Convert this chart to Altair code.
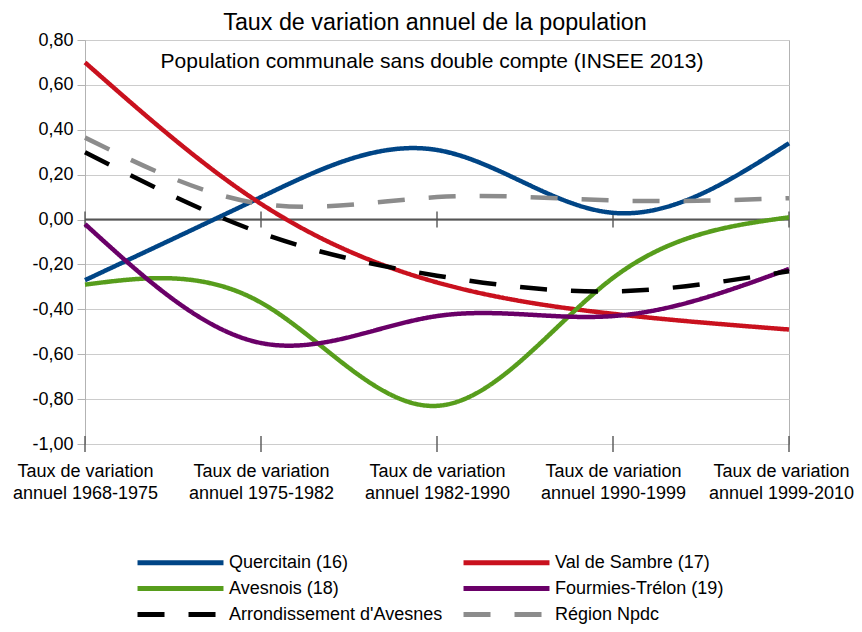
import altair as alt
import pandas as pd

categories = [
    "Taux de variation annuel 1968-1975",
    "Taux de variation annuel 1975-1982",
    "Taux de variation annuel 1982-1990",
    "Taux de variation annuel 1990-1999",
    "Taux de variation annuel 1999-2010",
]
series_names = [
    "Quercitain (16)",
    "Val de Sambre (17)",
    "Avesnois (18)",
    "Fourmies-Trélon (19)",
    "Arrondissement d'Avesnes",
    "Région Npdc",
]
quercitain = [-0.27, 0.10, 0.31, 0.03, 0.34]
val_de_sambre = [0.70, 0.07, -0.28, -0.42, -0.49]
avesnois = [-0.29, -0.37, -0.83, -0.26, 0.01]
fourmies = [-0.02, -0.55, -0.43, -0.43, -0.22]
arrondissement = [0.30, -0.06, -0.25, -0.32, -0.23]
region = [0.365, 0.07, 0.10, 0.085, 0.095]
y_ticks = [-1.0, -0.8, -0.6, -0.4, -0.2, 0.0, 0.2, 0.4, 0.6, 0.8]
cross_lines = [0.0, -1.0]
title_text = "Taux de variation annuel de la population"
subtitle_text = "Population communale sans double compte (INSEE 2013)"

colors = ["#004586", "#c9111e", "#579d1c", "#6a0068", "#000000", "#8c8c8c"]
dashes = [[1, 0], [1, 0], [1, 0], [1, 0], [27, 24], [27, 24]]

values = [quercitain, val_de_sambre, avesnois, fourmies, arrondissement, region]
rows = []
for name, vals in zip(series_names, values):
    for c, v in zip(categories, vals):
        rows.append({"cat": c, "value": v, "serie": name})
df = pd.DataFrame(rows)

ticks_df = pd.DataFrame([{"cat": c, "v": v} for c in categories for v in cross_lines])
zero_df = pd.DataFrame({"v": [0.0]})
title_df = pd.DataFrame({"t": [title_text]})
sub_df = pd.DataFrame({"t": [subtitle_text]})

FONT = "Liberation Sans"

x_scale = alt.Scale(type="point", domain=categories, padding=0)
y_scale = alt.Scale(domain=[-1.0, 0.8], nice=False, zero=False)

x_axis = alt.Axis(
    title=None,
    labelAngle=0,
    labelExpr="[substring(datum.label, 0, 17), substring(datum.label, 18)]",
    labelFont=FONT,
    labelFontSize=18,
    labelColor="black",
    labelLineHeight=22,
    labelPadding=18,
    labelOffset={
        "condition": {"test": "datum.value === 'Taux de variation annuel 1999-2010'", "value": -8},
        "value": 0,
    },
    ticks=False,
    domain=False,
    grid=False,
)
y_axis = alt.Axis(
    title=None,
    values=y_ticks,
    labelExpr="replace(replace(format(datum.value, '.2f'), '.', ','), '\u2212', '-')",
    labelFont=FONT,
    labelFontSize=18,
    labelColor="black",
    labelPadding=4,
    tickSize=8,
    tickColor="#b3b3b3",
    domainColor="#b3b3b3",
    grid=True,
    gridColor="#cccccc",
)

legend = alt.Legend(
    title=None,
    orient="none",
    direction="horizontal",
    legendX=82,
    legendY=509,
    columns=2,
    symbolType="M-4,0H4",
    symbolSize=462,
    symbolStrokeWidth=5,
    labelFont=FONT,
    labelFontSize=18,
    labelColor="black",
    labelOffset=35,
    labelLimit=400,
    columnPadding=10,
    rowPadding=2,
    symbolLimit=0,
)

zero = alt.Chart(zero_df).mark_rule(color="#555555", strokeWidth=2).encode(
    y=alt.Y("v:Q", scale=y_scale, axis=y_axis)
)

ticks = alt.Chart(ticks_df).mark_tick(
    orient="vertical", size=16, thickness=2, color="#555555"
).encode(
    x=alt.X("cat:N", scale=x_scale, axis=x_axis, sort=categories),
    y=alt.Y("v:Q", scale=y_scale, axis=y_axis),
)

lines = alt.Chart(df).mark_line(interpolate="natural", strokeWidth=4.5).encode(
    x=alt.X("cat:N", scale=x_scale, axis=x_axis, sort=categories),
    y=alt.Y("value:Q", scale=y_scale, axis=y_axis),
    color=alt.Color(
        "serie:N",
        scale=alt.Scale(domain=series_names, range=colors),
        legend=legend,
    ),
    strokeDash=alt.StrokeDash(
        "serie:N",
        scale=alt.Scale(domain=series_names, range=dashes),
        legend=legend,
    ),
)

title = alt.Chart(title_df).mark_text(
    font=FONT, fontSize=23.3, color="black", align="center", baseline="alphabetic"
).encode(text="t:N", x=alt.value(350), y=alt.value(-10))

subtitle = alt.Chart(sub_df).mark_text(
    font=FONT, fontSize=21, color="black", align="center", baseline="alphabetic"
).encode(text="t:N", x=alt.value(347), y=alt.value(28))

chart = alt.layer(zero, ticks, lines, title, subtitle).properties(
    width=704,
    height=404,
    autosize=alt.AutoSizeParams(type="none"),
    padding={"left": 77, "top": 32, "right": 65, "bottom": 180},
).configure_view(stroke="#b3b3b3")

chart.save("out.html", embed_options={"renderer": "svg", "actions": False})
